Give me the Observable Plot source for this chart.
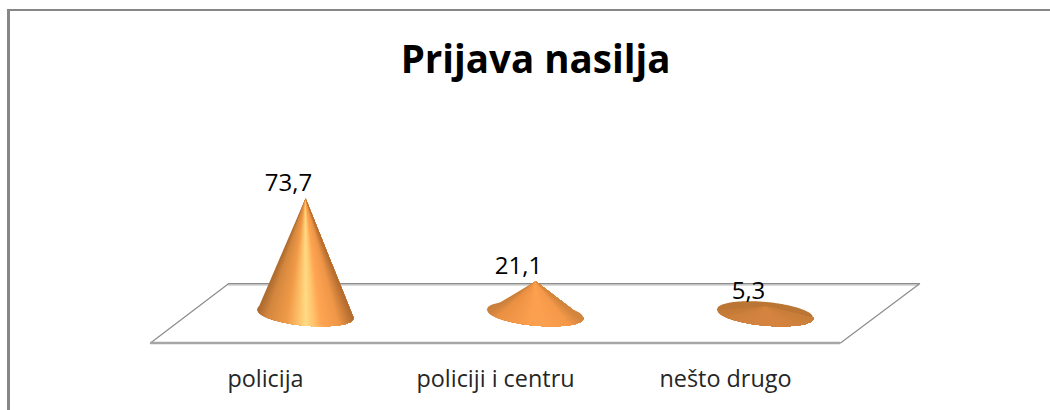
<!DOCTYPE html>
<html>
<head>
<meta charset="utf-8">
<script src="https://cdn.jsdelivr.net/npm/d3@7"></script>
<script src="https://cdn.jsdelivr.net/npm/@observablehq/plot@0.6"></script>
<style>
html,body{margin:0;padding:0;background:#fff;overflow:hidden}
#chart{position:relative;width:1050px;height:410px}
#chart::before{content:"";position:absolute;left:7px;top:9px;right:0;bottom:0;border-left:3px solid #868686;border-top:2px solid #868686;z-index:2;pointer-events:none}
svg{display:block}
</style>
</head>
<body>
<div id="chart"></div>
<script>
const title = "Prijava nasilja";
const categories = ["policija", "policiji i centru", "nešto drugo"];
const values = [73.7, 21.1, 5.3];
const valueLabels = ["73,7", "21,1", "5,3"];
const floorX = [-0.674, -0.335, 2.670, 2.326, -0.674];
const floorY = [-18.1, 19.6, 19.6, -18.1, -18.1];
const baseHalfWidth = 0.209;
const baseHalfHeight = 7.4;
const baseTilt = 2.6;
const baseCentre = 0.3;
const baseColor = ["#b06c30", "#c97f3c", "#bb7635"];
const shadeStops = [0, 0.1, 0.3, 0.44, 0.5, 0.58, 0.66, 0.85, 1];
const shades = [
  ["#ad6a2e", "#d4873f", "#f09a48", "#ffc56e", "#ffdb85", "#ffc56e", "#ffa654", "#ef9648", "#b26c2f"],
  ["#c97f3c", "#ea9144", "#f4994a", "#fba04f", "#fba04f", "#fba04f", "#f99e4d", "#f5994a", "#d0843e"],
  ["#c27a38", "#cc803c", "#d28340", "#d58440", "#d58440", "#d58440", "#d58440", "#d0823e", "#c87e3a"]
];

const baseLower = dx => {
  const u = dx / baseHalfWidth;
  return baseCentre - baseTilt * u - baseHalfHeight * Math.sqrt(Math.max(0, 1 - u * u));
};
const baseUpper = dx => {
  const u = dx / baseHalfWidth;
  return baseCentre - baseTilt * u + baseHalfHeight * Math.sqrt(Math.max(0, 1 - u * u));
};
const offsets = d3.range(-48, 49).map(k => k / 48 * baseHalfWidth);

const ellipses = categories.flatMap((c, i) =>
  offsets.map(dx => ({i, x: i + dx, top: baseUpper(dx), bottom: baseLower(dx)})));

// Each fan slice runs from its own start to the far end of the base and is painted
// over by the next one, so neighbouring slices leave no seam.
const slices = categories.flatMap((c, i) => {
  const shade = d3.scaleLinear().domain(shadeStops).range(shades[i]);
  return d3.range(offsets.length - 1).flatMap(k => {
    const id = `${i}-${String(k).padStart(3, "0")}`;
    const color = shade((offsets[k] + offsets[k + 1]) / 2 / baseHalfWidth / 2 + 0.5);
    return [
      {id, color, x: i, y: values[i]},
      ...offsets.slice(k).map(dx => ({id, color, x: i + dx, y: baseLower(dx)}))
    ];
  });
});

const plot = Plot.plot({
  width: 1050, height: 410,
  marginLeft: 0, marginRight: 0, marginTop: 0, marginBottom: 40,
  style: {background: "#fff", fontFamily: "'Open Sans', sans-serif", overflow: "visible"},
  x: {domain: [-305/230, 745/230], range: [0, 1050], axis: null},
  y: {domain: [-35.58, 199.5], range: [370, 0], axis: null},
  marks: [
    Plot.ruleY([floorY[1]], {x1: floorX[1], x2: floorX[2], stroke: "#d9d9d9", strokeWidth: 2.5, dy: 1}),
    Plot.line({length: floorX.length}, {x: (_, i) => floorX[i], y: (_, i) => floorY[i], stroke: "#8c8c8c", strokeWidth: 1.2}),
    Plot.ruleY([floorY[0]], {x1: floorX[0], x2: floorX[3], stroke: "#a6a6a6", strokeWidth: 2.5}),
    Plot.areaY(ellipses, {x: "x", y1: "bottom", y2: "top", z: "i", fill: d => baseColor[d.i]}),
    Plot.line(slices, {x: "x", y: "y", z: "id", fill: "color", stroke: null, curve: "linear-closed"}),
    Plot.text(d3.range(categories.length), {
      x: d => d, y: d => values[d], text: d => valueLabels[d], dx: -17, dy: -15,
      fontSize: 24, fill: "#000"
    }),
    Plot.axisX({
      ticks: [0, 1, 2], tickFormat: d => categories[d], tickSize: 0, tickPadding: 0, dx: -40,
      fontSize: 23.4, fill: "#262626", label: null, anchor: "bottom"
    }),
    Plot.text([title], {
      frameAnchor: "top", dx: 10, dy: 45, text: d => d, fontSize: 38.5, fontWeight: 700, fill: "#000"
    })
  ]
});
document.getElementById("chart").appendChild(plot);
</script>
</body>
</html>
